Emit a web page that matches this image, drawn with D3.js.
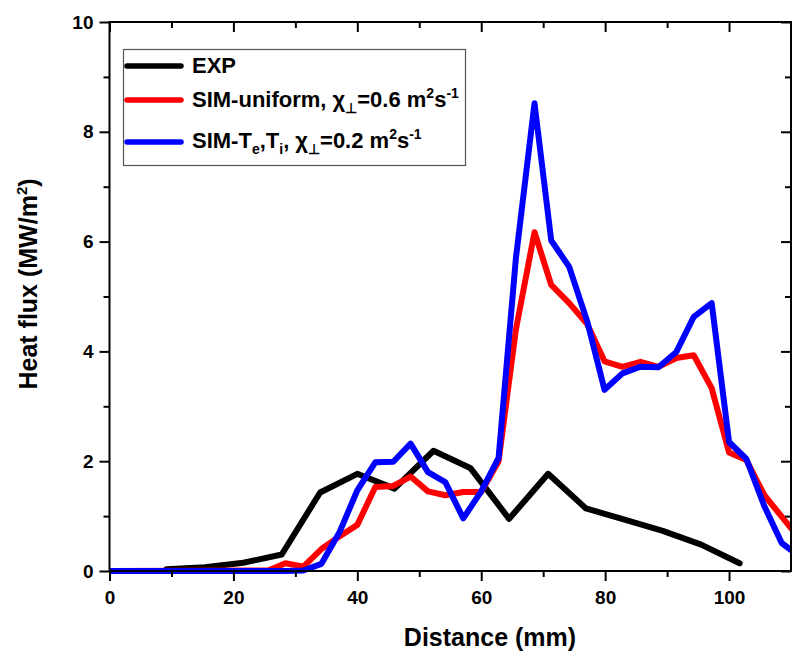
<!DOCTYPE html>
<html>
<head>
<meta charset="utf-8">
<script src="https://cdn.jsdelivr.net/npm/d3@7"></script>
<style>
  html, body { margin: 0; padding: 0; background: #fff; }
  svg { display: block; }
  text { font-family: "Liberation Sans", Arial, sans-serif; font-weight: bold; fill: #000; }
</style>
</head>
<body>
<svg id="chart" width="799" height="658"></svg>
<script>
// Experimental heat flux profile (distance in mm, flux in MW/m^2)
const expX = [9.2, 15.4, 21.6, 27.8, 34.0, 40.0, 46.0, 52.3, 58.3, 64.5, 70.8, 76.9, 83.0, 89.3, 95.5, 101.7];
const expY = [0.03, 0.07, 0.15, 0.30, 1.43, 1.77, 1.50, 2.19, 1.87, 0.95, 1.77, 1.14, 0.94, 0.73, 0.48, 0.14];

// Simulation grid shared by both simulated profiles
const simX = [0, 25.6, 28.4, 31.3, 34.2, 37.1, 40.0, 42.9, 45.8, 48.6, 51.4, 54.2, 57.1, 60.0, 62.8, 65.6,
              68.6, 71.3, 74.2, 77.1, 79.9, 82.8, 85.7, 88.6, 91.5, 94.3, 97.2, 100.0, 102.8, 105.7, 108.5, 110];
// Uniform transport coefficient, chi = 0.6 m^2/s
const uniformY = [0, 0.01, 0.14, 0.08, 0.40, 0.63, 0.84, 1.53, 1.55, 1.72, 1.45, 1.38, 1.44, 1.44, 2.00, 4.40,
                  6.17, 5.21, 4.88, 4.50, 3.82, 3.72, 3.81, 3.72, 3.88, 3.93, 3.33, 2.16, 2.02, 1.38, 0.99, 0.78];
// Te, Ti dependent transport, chi = 0.2 m^2/s
const teTiY = [0, 0, 0, 0.01, 0.13, 0.70, 1.47, 1.98, 1.99, 2.32, 1.80, 1.62, 0.96, 1.45, 2.06, 5.70,
               8.52, 6.02, 5.54, 4.55, 3.30, 3.60, 3.72, 3.71, 3.99, 4.63, 4.88, 2.35, 2.04, 1.18, 0.51, 0.38];

// Axis ticks
const xMajor = [0, 20, 40, 60, 80, 100];
const xMinor = [10, 30, 50, 70, 90];
const yMajor = [0, 2, 4, 6, 8, 10];
const yMinor = [1, 3, 5, 7, 9];

const seriesNames = ["EXP", "SIM-uniform", "SIM-TeTi"];
const seriesColors = ["#000000", "#ff0000", "#0000ff"];

const svg = d3.select("#chart");
const pLeft = 109.5, pRight = 791, pTop = 22, pBottom = 571;

const x = d3.scaleLinear().domain([0, 110]).range([pLeft, pRight]);
const y = d3.scaleLinear().domain([0, 10]).range([pBottom, pTop]);

// Clip lines at the left/right frame edges only
svg.append("defs").append("clipPath").attr("id", "plotClip")
  .append("rect").attr("x", pLeft).attr("y", 0).attr("width", pRight - pLeft).attr("height", 658);

const series = [
  { name: seriesNames[0], color: seriesColors[0], pts: expX.map((d, i) => [d, expY[i]]) },
  { name: seriesNames[1], color: seriesColors[1], pts: simX.map((d, i) => [d, uniformY[i]]) },
  { name: seriesNames[2], color: seriesColors[2], pts: simX.map((d, i) => [d, teTiY[i]]) }
];

const line = d3.line().x(d => x(d[0])).y(d => y(d[1]));

svg.append("g").attr("clip-path", "url(#plotClip)")
  .selectAll("path").data(series).join("path")
  .attr("d", d => line(d.pts))
  .attr("fill", "none")
  .attr("stroke", d => d.color)
  .attr("stroke-width", 6)
  .attr("stroke-linejoin", "round")
  .attr("stroke-linecap", "round");

// Axes: outward ticks on bottom/left, inward ticks on top/right
function styleAxis(g) {
  g.select(".domain").remove();
  g.selectAll(".tick line").attr("stroke", "#000").attr("stroke-width", 2);
  g.selectAll(".tick text").style("font-size", "19px").style("font-family", '"Liberation Sans", Arial, sans-serif')
    .style("font-weight", "bold").attr("fill", "#000");
}

svg.append("g").attr("transform", `translate(0,${pBottom})`)
  .call(d3.axisBottom(x).tickValues(xMajor).tickSize(10).tickPadding(10).tickFormat(d3.format("d")))
  .call(styleAxis);
svg.append("g").attr("transform", `translate(0,${pBottom})`)
  .call(d3.axisBottom(x).tickValues(xMinor).tickSize(6).tickFormat(""))
  .call(styleAxis);
svg.append("g").attr("transform", `translate(${pLeft},0)`)
  .call(d3.axisLeft(y).tickValues(yMajor).tickSize(10).tickPadding(6).tickFormat(d3.format("d")))
  .call(styleAxis);
svg.append("g").attr("transform", `translate(${pLeft},0)`)
  .call(d3.axisLeft(y).tickValues(yMinor).tickSize(6).tickFormat(""))
  .call(styleAxis);
svg.append("g").attr("transform", `translate(0,${pTop})`)
  .call(d3.axisBottom(x).tickValues(xMajor).tickSize(10).tickFormat(""))
  .call(styleAxis);
svg.append("g").attr("transform", `translate(0,${pTop})`)
  .call(d3.axisBottom(x).tickValues(xMinor).tickSize(6).tickFormat(""))
  .call(styleAxis);
svg.append("g").attr("transform", `translate(${pRight},0)`)
  .call(d3.axisLeft(y).tickValues(yMajor).tickSize(10).tickFormat(""))
  .call(styleAxis);
svg.append("g").attr("transform", `translate(${pRight},0)`)
  .call(d3.axisLeft(y).tickValues(yMinor).tickSize(6).tickFormat(""))
  .call(styleAxis);

// Frame
svg.append("rect")
  .attr("x", pLeft).attr("y", pTop).attr("width", pRight - pLeft).attr("height", pBottom - pTop)
  .attr("fill", "none").attr("stroke", "#000").attr("stroke-width", 2);

// Axis titles
svg.append("text")
  .attr("x", 490).attr("y", 646).attr("text-anchor", "middle")
  .style("font-size", "25px").text("Distance (mm)");

const yTitle = svg.append("text")
  .attr("transform", "translate(37,284) rotate(-90)").attr("text-anchor", "middle")
  .style("font-size", "25px");
yTitle.append("tspan").text("Heat flux (MW/m");
yTitle.append("tspan").attr("dy", -10).style("font-size", "15px").text("2");
yTitle.append("tspan").attr("dy", 10).text(")");

// Legend
const legend = svg.append("g");
legend.append("rect")
  .attr("x", 123.5).attr("y", 49.5).attr("width", 342).attr("height", 116)
  .attr("fill", "#fff").attr("stroke", "#555").attr("stroke-width", 1.2);

const legendRows = [66, 100, 142];
legend.selectAll("line.key").data(series).join("line")
  .attr("class", "key")
  .attr("x1", 127).attr("x2", 181)
  .attr("y1", (d, i) => legendRows[i]).attr("y2", (d, i) => legendRows[i])
  .attr("stroke", d => d.color).attr("stroke-width", 5.5).attr("stroke-linecap", "round");

const tx = 192;
const fs = "22px", ss = "14px";
legend.append("text").attr("x", tx).attr("y", 73).style("font-size", fs).text("EXP");

const t2 = legend.append("text").attr("x", tx).attr("y", 107).style("font-size", fs);
t2.append("tspan").text("SIM-uniform, χ");
t2.append("tspan").attr("dy", 6).style("font-size", ss).text("⊥");
t2.append("tspan").attr("dy", -6).text("=0.6 m");
t2.append("tspan").attr("dy", -9).style("font-size", ss).text("2");
t2.append("tspan").attr("dy", 9).text("s");
t2.append("tspan").attr("dy", -9).style("font-size", ss).text("-1");

const t3 = legend.append("text").attr("x", tx).attr("y", 148).style("font-size", fs);
t3.append("tspan").text("SIM-T");
t3.append("tspan").attr("dy", 6).style("font-size", ss).text("e");
t3.append("tspan").attr("dy", -6).text(",T");
t3.append("tspan").attr("dy", 6).style("font-size", ss).text("i");
t3.append("tspan").attr("dy", -6).text(", χ");
t3.append("tspan").attr("dy", 6).style("font-size", ss).text("⊥");
t3.append("tspan").attr("dy", -6).text("=0.2 m");
t3.append("tspan").attr("dy", -9).style("font-size", ss).text("2");
t3.append("tspan").attr("dy", 9).text("s");
t3.append("tspan").attr("dy", -9).style("font-size", ss).text("-1");
</script>
</body>
</html>
